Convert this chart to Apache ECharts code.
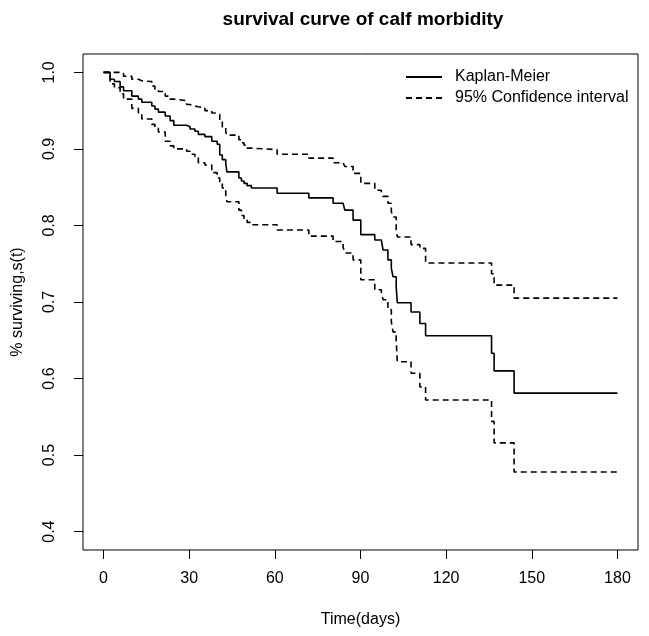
<!DOCTYPE html>
<html>
<head>
<meta charset="utf-8">
<script src="https://cdn.jsdelivr.net/npm/echarts@6/dist/echarts.min.js"></script>
<style>html,body{margin:0;padding:0;background:#fff}#c{width:649px;height:636px}</style>
</head>
<body>
<div id="c"></div>
<script>
// Data (time in days, survival proportion after each step)
var times = [0, 2.3, 3.8, 5.8, 7.0, 9.9, 12.2, 13.4, 16.9, 18.0, 19.2, 21.6, 23.3, 24.6, 29.1, 30.3, 32.0, 33.2, 35.5, 37.9, 39.8, 40.7, 41.6, 42.8, 43.2, 47.4, 48.3, 49.2, 50.3, 51.8, 60.8, 71.9, 80.4, 83.9, 84.5, 87.4, 90.1, 95.0, 97.3, 97.9, 99.6, 100.8, 101.4, 102.5, 102.9, 107.7, 110.8, 112.8, 135.9, 136.8, 143.8, 180];
var kmValues = [1.000, 0.991, 0.988, 0.981, 0.976, 0.969, 0.965, 0.961, 0.956, 0.952, 0.948, 0.943, 0.937, 0.931, 0.929, 0.926, 0.923, 0.919, 0.916, 0.910, 0.906, 0.892, 0.886, 0.881, 0.870, 0.862, 0.858, 0.855, 0.852, 0.849, 0.842, 0.836, 0.829, 0.827, 0.820, 0.807, 0.788, 0.781, 0.779, 0.768, 0.755, 0.744, 0.733, 0.720, 0.699, 0.687, 0.672, 0.656, 0.633, 0.610, 0.581, 0.581];
var upperValues = [1.000, 1.000, 1.000, 0.999, 0.995, 0.991, 0.989, 0.988, 0.982, 0.978, 0.975, 0.969, 0.965, 0.963, 0.958, 0.956, 0.955, 0.954, 0.950, 0.947, 0.945, 0.935, 0.928, 0.922, 0.918, 0.912, 0.908, 0.905, 0.901, 0.899, 0.893, 0.888, 0.882, 0.880, 0.877, 0.868, 0.855, 0.846, 0.843, 0.838, 0.829, 0.818, 0.811, 0.794, 0.785, 0.775, 0.770, 0.751, 0.737, 0.722, 0.705, 0.705];
var lowerValues = [1.000, 0.985, 0.980, 0.972, 0.965, 0.953, 0.945, 0.939, 0.932, 0.927, 0.922, 0.910, 0.904, 0.900, 0.897, 0.893, 0.890, 0.882, 0.879, 0.869, 0.862, 0.855, 0.849, 0.840, 0.831, 0.820, 0.813, 0.808, 0.804, 0.801, 0.794, 0.786, 0.779, 0.772, 0.764, 0.755, 0.729, 0.716, 0.713, 0.703, 0.690, 0.674, 0.661, 0.650, 0.622, 0.607, 0.589, 0.572, 0.544, 0.516, 0.478, 0.478];
var xTicks = [0, 30, 60, 90, 120, 150, 180];
var yTicks = [0.4, 0.5, 0.6, 0.7, 0.8, 0.9, 1.0];
var seriesNames = ['Kaplan-Meier', '95% Confidence interval'];
var titleText = 'survival curve of calf morbidity';
var xName = 'Time(days)';
var yName = '% surviving,s(t)';

function pairs(vals) { return times.map(function (t, i) { return [t, vals[i]]; }); }

var font = "'Liberation Sans', Arial, Helvetica, sans-serif";
var chart = echarts.init(document.getElementById('c'), null, {renderer: 'canvas'});
chart.setOption({
  animation: false,
  backgroundColor: '#fff',
  textStyle: {fontFamily: font},
  title: {
    text: titleText, left: 358, top: 5, textAlign: 'center',
    textStyle: {fontFamily: font, fontSize: 19, fontWeight: 'bold', color: '#000'}
  },
  legend: {
    orient: 'vertical', left: 400, top: 64, itemWidth: 36, itemHeight: 16, itemGap: 5,
    data: seriesNames,
    itemStyle: {color: 'rgba(0,0,0,0)', borderColor: 'rgba(0,0,0,0)', borderWidth: 0},
    textStyle: {fontFamily: font, fontSize: 16, color: '#000', padding: [0, 0, 0, 8]}
  },
  grid: {left: 83, right: 11, top: 54, bottom: 86, show: true, borderColor: '#000', borderWidth: 1, backgroundColor: 'transparent'},
  xAxis: {
    type: 'value', min: -7.2, max: 187.2,
    name: xName, nameLocation: 'middle', nameGap: 62,
    nameTextStyle: {fontFamily: font, fontSize: 16, color: '#000'},
    axisLine: {show: false, onZero: false}, splitLine: {show: false},
    axisTick: {show: true, customValues: xTicks, length: 9, lineStyle: {color: '#000'}},
    axisLabel: {customValues: xTicks, margin: 21, fontSize: 16, color: '#000', fontFamily: font}
  },
  yAxis: {
    type: 'value', min: 0.376, max: 1.024,
    name: yName, nameLocation: 'middle', nameGap: 57,
    nameTextStyle: {fontFamily: font, fontSize: 16, color: '#000'},
    axisLine: {show: false, onZero: false}, splitLine: {show: false},
    axisTick: {show: true, customValues: yTicks, length: 9, lineStyle: {color: '#000'}},
    axisLabel: {customValues: yTicks, rotate: 90, margin: 25, fontSize: 16, color: '#000', fontFamily: font,
      formatter: function (v) { return v.toFixed(1); }}
  },
  series: [
    {name: seriesNames[0], type: 'line', step: 'end', symbol: 'none', data: pairs(kmValues),
     lineStyle: {color: '#000', width: 1.6, type: 'solid'}, itemStyle: {color: '#000'}},
    {name: seriesNames[1], type: 'line', step: 'end', symbol: 'none', data: pairs(upperValues),
     lineStyle: {color: '#000', width: 1.6, type: [6, 4]}, itemStyle: {color: '#000'}},
    {name: seriesNames[1], type: 'line', step: 'end', symbol: 'none', data: pairs(lowerValues),
     lineStyle: {color: '#000', width: 1.6, type: [6, 4]}, itemStyle: {color: '#000'}}
  ]
});
</script>
</body>
</html>
